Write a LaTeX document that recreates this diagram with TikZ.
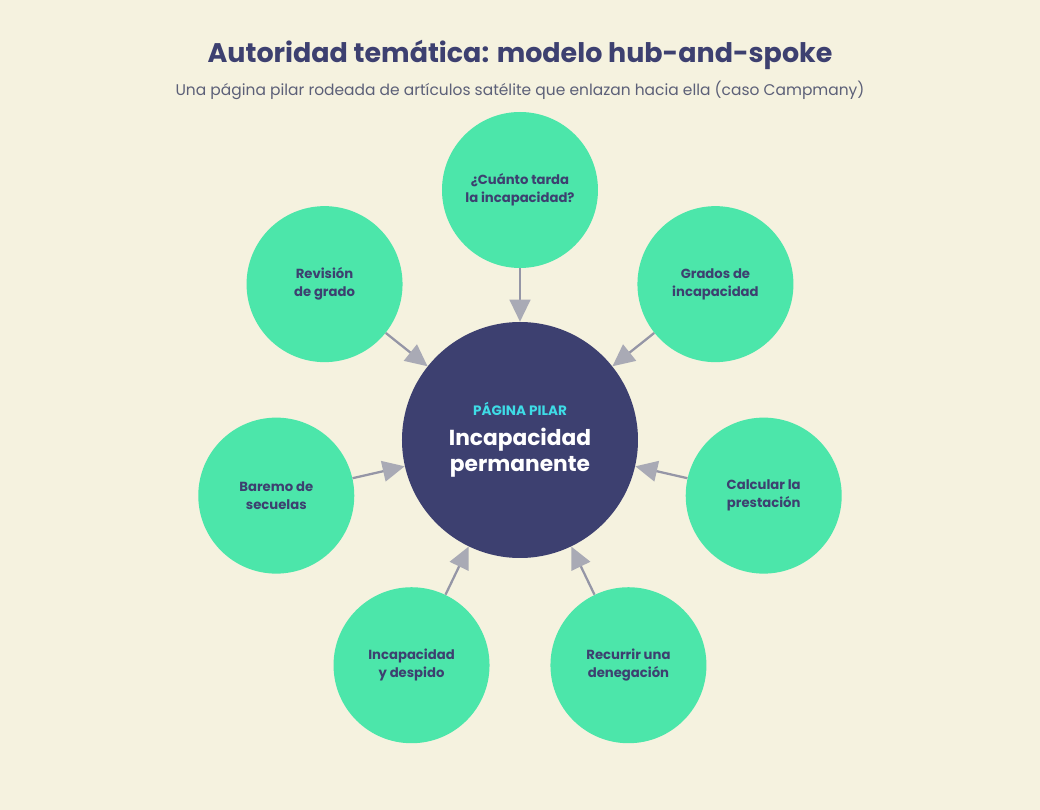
\documentclass[tikz,border=0pt]{standalone}
\usepackage{fontspec}
\setmainfont{Poppins}
\usetikzlibrary{arrows.meta,positioning}
\definecolor{paper}{HTML}{F5F2DF}
\definecolor{ink}{HTML}{3D4070}
\definecolor{muted}{HTML}{5C6078}
\definecolor{satfill}{HTML}{4CE6AA}
\definecolor{hubfill}{HTML}{3D4070}
\definecolor{tag}{HTML}{3EDCE6}
\definecolor{spokec}{HTML}{9596A6}
\definecolor{tipc}{HTML}{A9AAB5}
\tikzset{
  sat/.style={circle,fill=satfill,minimum size=117pt,inner sep=0pt,align=center,
    text=ink,font=\bfseries\fontsize{9.9}{13.5}\selectfont},
  hub/.style={circle,fill=hubfill,minimum size=177pt,inner sep=0pt,align=center,
    text=white,font=\bfseries\fontsize{16.3}{19.5}\selectfont},
  spoke/.style={-{Triangle[length=16.5pt,width=15.5pt,fill=tipc,color=tipc]},
    line width=1.7pt,color=spokec},
  ttl/.style={font=\bfseries\fontsize{20.2}{24}\selectfont,text=ink},
  sub/.style={font=\fontsize{11.6}{14}\selectfont,text=muted}
}
\begin{document}
\begin{tikzpicture}
  \fill[paper] (-390pt,-277.5pt) rectangle (390pt,330pt);
  \useasboundingbox (-390pt,-277.5pt) rectangle (390pt,330pt);
  \node[ttl] (title) at (0,288.5pt) {Autoridad temática: modelo hub-and-spoke};
  \node[sub] (subtitle) at (0,262.5pt) {Una página pilar rodeada de artículos satélite que enlazan hacia ella (caso Campmany)};
  \node[hub] (hub) at (0,0) {{\fontsize{10.2}{16}\selectfont\color{tag}PÁGINA PILAR}\\[3pt]Incapacidad\\permanente};
  \foreach \i/\txt in {0/{¿Cuánto tarda\\la incapacidad?},1/{Grados de\\incapacidad},
      2/{Calcular la\\prestación},3/{Recurrir una\\denegación},4/{Incapacidad\\y despido},
      5/{Baremo de\\secuelas},6/{Revisión\\de grado}}{
    \node[sat] (s\i) at ({90-\i*360/7}:187.5pt) {\txt};
    \draw[spoke] (s\i) -- (hub);
  }
\end{tikzpicture}
\end{document}
